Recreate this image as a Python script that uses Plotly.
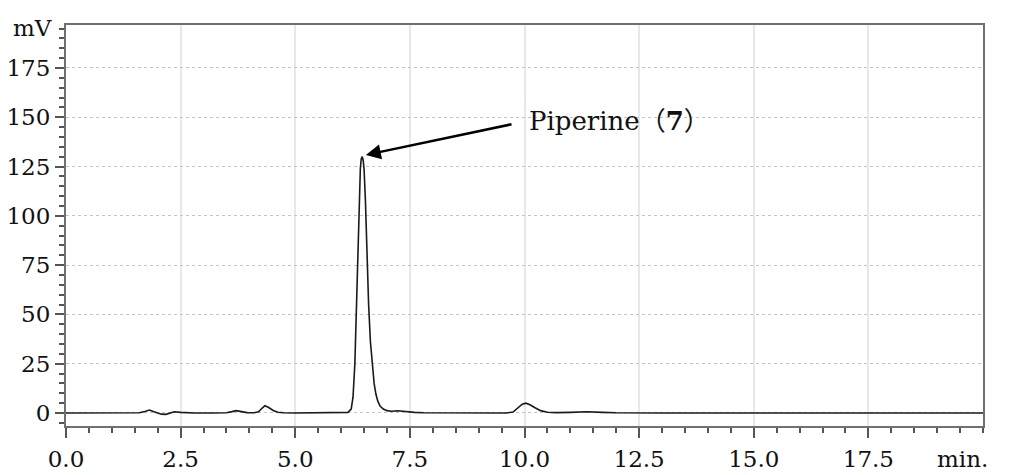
import plotly.graph_objects as go

# Retention time (min) and detector signal (mV)
time_min = [0.0, 1.0, 1.6, 1.72, 1.82, 1.92, 2.0, 2.08, 2.18, 2.28, 2.36, 2.5, 2.8, 3.2,
            3.5, 3.62, 3.71, 3.8, 3.95, 4.1, 4.2, 4.28, 4.34, 4.42, 4.52, 4.62, 4.75,
            5.0, 5.5, 5.7, 5.8, 6.0, 6.15, 6.22, 6.26, 6.30, 6.33, 6.37, 6.40, 6.42,
            6.44, 6.46, 6.48, 6.50, 6.53, 6.565, 6.60, 6.64, 6.68, 6.72, 6.76, 6.80,
            6.85, 6.92, 7.0, 7.1, 7.24, 7.4, 7.6, 7.8, 8.5, 9.0, 9.6, 9.75, 9.85, 9.95,
            10.03, 10.12, 10.22, 10.35, 10.5, 10.7, 11.0, 11.36, 11.7, 12.0, 13.0, 14.0,
            15.0, 16.0, 17.0, 18.0, 19.0, 20.0]
signal_mv = [0, 0, 0.1, 0.8, 1.5, 0.6, 0, -0.6, -0.7, 0.2, 0.6, 0.3, 0, 0,
             0.1, 0.7, 1.2, 0.8, 0.2, 0.1, 0.6, 2.5, 3.7, 2.8, 1.3, 0.4, 0.1,
             0, 0, 0.3, 0.2, 0, 0.3, 2, 8, 25, 50, 80, 115, 124,
             129, 130, 128.5, 124, 108, 80, 55, 36, 24, 15, 9.5, 6,
             3.5, 2, 1.2, 0.9, 1.1, 0.6, 0.3, 0.1, 0, 0, 0, 0.5, 2.5, 4.5,
             5, 4.2, 2.8, 1.2, 0.4, 0.2, 0.3, 0.6, 0.3, 0.1, 0, 0,
             0, 0, -0.1, 0, 0, 0]

x_tickvals = [0.0, 2.5, 5.0, 7.5, 10.0, 12.5, 15.0, 17.5]
x_ticktext = ["0.0", "2.5", "5.0", "7.5", "10.0", "12.5", "15.0", "17.5"]
y_tickvals = [0, 25, 50, 75, 100, 125, 150, 175]

peak_label = "Piperine（<b>7</b>）"
peak_time, peak_height = 6.54, 130.9

FONT = "DejaVu Serif, Noto Sans CJK JP, serif"
TICK_SIZE = 23

fig = go.Figure()
fig.add_trace(go.Scatter(x=time_min, y=signal_mv, mode="lines",
                         line=dict(color="#1a1a1a", width=1.6),
                         hoverinfo="skip", showlegend=False))

axis_common = dict(showline=True, linecolor="#707070", linewidth=2, mirror=True,
                   ticks="outside", tickcolor="#555555", tickwidth=1.5,
                   zeroline=False, automargin=False,
                   tickfont=dict(family=FONT, size=TICK_SIZE, color="#111111"))

fig.update_xaxes(range=[0, 20], tickvals=x_tickvals, ticktext=x_ticktext,
                 ticklen=10, ticklabelstandoff=1,
                 showgrid=True, gridcolor="#e8e8e8", gridwidth=1.5,
                 minor=dict(dtick=0.5, tick0=0, ticklen=5, ticks="outside",
                            tickcolor="#555555", tickwidth=1.5, showgrid=False),
                 **axis_common)
fig.update_yaxes(range=[-6.6, 196.8], tickvals=y_tickvals, ticklen=9,
                 showgrid=True, gridcolor="#c4c4c4", gridwidth=1, griddash="dot",
                 minor=dict(dtick=5, tick0=0, ticklen=5, ticks="outside",
                            tickcolor="#555555", tickwidth=1.5, showgrid=False),
                 **axis_common)

fig.add_annotation(x=peak_time, y=peak_height, xref="x", yref="y",
                   ax=9.75, ay=146.6, axref="x", ayref="y",
                   text="", showarrow=True, arrowhead=2, arrowsize=1.2,
                   arrowwidth=2.5, arrowcolor="#000000", standoff=0)
fig.add_annotation(x=10.05, y=148.0, xref="x", yref="y", text=peak_label,
                   showarrow=False, xanchor="left", yanchor="middle",
                   font=dict(family=FONT, size=26, color="#111111"))
fig.add_annotation(x=-0.037, y=0.9925, xref="paper", yref="paper", text="mV",
                   showarrow=False, xanchor="center", yanchor="middle",
                   font=dict(family=FONT, size=TICK_SIZE, color="#111111"))
fig.add_annotation(x=0.978, y=-0.083, xref="paper", yref="paper", text="min.",
                   showarrow=False, xanchor="center", yanchor="middle",
                   font=dict(family=FONT, size=TICK_SIZE, color="#111111"))

fig.update_layout(width=1018, height=475,
                  margin=dict(l=66, r=35, t=25, b=49),
                  plot_bgcolor="white", paper_bgcolor="white")

fig.write_html("out.html")
